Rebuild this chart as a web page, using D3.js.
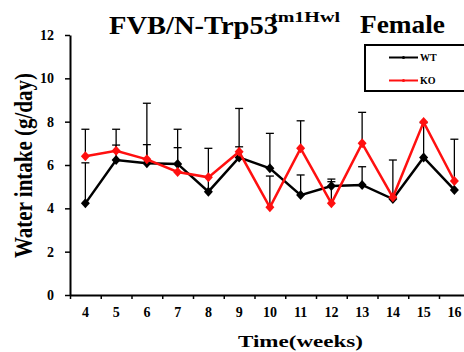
<html>
<head>
<meta charset="utf-8">
<style>
  body { margin: 0; background: #fff; }
  text { font-family: "Liberation Serif", "Times New Roman", serif; font-weight: bold; }
</style>
</head>
<body>
<script src="https://d3js.org/d3.v7.min.js"></script>
<script>

// weeks on the x axis
var weeks = [4, 5, 6, 7, 8, 9, 10, 11, 12, 13, 14, 15, 16];
// mean water intake (g/day)
var wtMean = [4.23, 6.23, 6.08, 6.05, 4.77, 6.35, 5.85, 4.61, 5.03, 5.08, 4.43, 6.35, 4.85];
var koMean = [6.40, 6.66, 6.26, 5.68, 5.43, 6.61, 4.05, 6.77, 4.23, 7.00, 4.51, 7.98, 5.26];
// upper error bars (sd)
var wtErr = [1.87, 0.69, 0.86, 1.60, 2.00, 0.49, 1.61, 0.93, 0.32, 0.84, 1.80, 1.60, 2.34];
var koErr = [1.25, 0.99, 2.59, 1.12, 0, 2.00, 1.44, 1.27, 1.00, 1.43, 0, 0, 0];
var yTicks = [0, 2, 4, 6, 8, 10, 12];

var w = 464, h = 352;
var serif = '"Liberation Serif", "Times New Roman", serif';

var svg = d3.select('body').append('svg')
    .attr('width', w)
    .attr('height', h);

// x is a category axis, ticks sit between the weeks
var x = d3.scaleBand().domain(weeks).range([70, 469.75]).padding(0);
var xEdge = d3.scaleLinear().domain([3.5, 16.5]).range([70, 469.75]);
var y = d3.scaleLinear().domain([0, 12]).range([295, 35]);

function cx(d){ return x(d) + x.bandwidth() / 2; }

// y axis
var yAxis = svg.append('g')
    .attr('transform', 'translate(70,0)')
    .call(d3.axisLeft(y).tickValues(yTicks).tickSize(5).tickSizeOuter(0).tickPadding(11));
yAxis.attr('font-family', serif);
yAxis.select('.domain').attr('stroke-width', 2);
yAxis.selectAll('.tick line').attr('stroke-width', 1.5);
yAxis.selectAll('text')
  .style('font-family', serif).style('font-weight', 'bold')
  .style('font-size', '14px').attr('fill', '#000');

// x axis: boundary ticks
var xAxisTicks = svg.append('g')
    .attr('transform', 'translate(0,295)')
    .call(d3.axisBottom(xEdge).tickValues(d3.range(3.5, 17, 1)).tickSize(4).tickSizeOuter(0).tickFormat(''));
xAxisTicks.select('.domain').attr('stroke-width', 2);
xAxisTicks.selectAll('.tick line').attr('stroke-width', 1.5);

// x axis: week labels
var xAxisLabels = svg.append('g')
    .attr('transform', 'translate(0,295)')
    .call(d3.axisBottom(x).tickSize(0).tickPadding(12));
xAxisLabels.attr('font-family', serif);
xAxisLabels.select('.domain').remove();
xAxisLabels.selectAll('text')
  .style('font-family', serif).style('font-weight', 'bold')
  .style('font-size', '14px').attr('fill', '#000');

// error bars (upper only)
function errorBars(means, errs){
  var pts = weeks.map(function(d, i){
    return {week: d, m: means[i], e: errs[i]};
  }).filter(function(d){ return d.e > 0; });

  var g = svg.append('g');
  g.selectAll('line.v').data(pts).enter().append('line')
    .attr('x1', function(d){ return cx(d.week); })
    .attr('x2', function(d){ return cx(d.week); })
    .attr('y1', function(d){ return y(d.m); })
    .attr('y2', function(d){ return y(d.m + d.e); })
    .attr('stroke', '#000')
    .attr('stroke-width', 1.3);
  g.selectAll('line.c').data(pts).enter().append('line')
    .attr('x1', function(d){ return cx(d.week) - 4; })
    .attr('x2', function(d){ return cx(d.week) + 4; })
    .attr('y1', function(d){ return y(d.m + d.e); })
    .attr('y2', function(d){ return y(d.m + d.e); })
    .attr('stroke', '#000')
    .attr('stroke-width', 1.3);
}
errorBars(wtMean, wtErr);
errorBars(koMean, koErr);

var diamond = 'M0,-5L4.5,0L0,5L-4.5,0Z';

function series(means, color){
  var line = d3.line()
    .x(function(d, i){ return cx(weeks[i]); })
    .y(function(d){ return y(d); });

  svg.append('path')
    .datum(means)
    .attr('d', line)
    .attr('fill', 'none')
    .attr('stroke', color)
    .attr('stroke-width', 2.5);

  svg.append('g').selectAll('path')
    .data(means)
    .enter()
    .append('path')
    .attr('d', diamond)
    .attr('transform', function(d, i){
      return 'translate(' + cx(weeks[i]) + ',' + y(d) + ')';
    })
    .attr('fill', color);
}
series(wtMean, '#000');
series(koMean, '#ff1010');

// title
svg.append('text').attr('x', 109).attr('y', 34)
  .attr('textLength', 169).attr('lengthAdjust', 'spacingAndGlyphs')
  .style('font-size', '26px').text('FVB/N-Trp53');
svg.append('text').attr('x', 271).attr('y', 22)
  .attr('textLength', 69).attr('lengthAdjust', 'spacingAndGlyphs')
  .style('font-size', '15px').text('tm1Hwl');
svg.append('text').attr('x', 360).attr('y', 33)
  .attr('textLength', 85).attr('lengthAdjust', 'spacingAndGlyphs')
  .style('font-size', '26px').text('Female');

// axis titles
svg.append('text')
  .attr('transform', 'translate(32,165.5) scale(1.2,1) rotate(-90)')
  .attr('text-anchor', 'middle')
  .attr('textLength', 185).attr('lengthAdjust', 'spacingAndGlyphs')
  .style('font-size', '21px')
  .text('Water intake (g/day)');

svg.append('text')
  .attr('x', 238).attr('y', 347)
  .attr('textLength', 125).attr('lengthAdjust', 'spacingAndGlyphs')
  .style('font-size', '17px')
  .text('Time(weeks)');

// legend
var legend = svg.append('g');
legend.append('rect')
  .attr('x', 365).attr('y', 45).attr('width', 110).attr('height', 46)
  .attr('fill', '#fff').attr('stroke', '#000').attr('stroke-width', 2);

var legendItems = [{name: 'WT', color: '#000', y: 57.5}, {name: 'KO', color: '#ff1010', y: 80.5}];
legendItems.forEach(function(d){
  legend.append('line')
    .attr('x1', 389).attr('x2', 418).attr('y1', d.y).attr('y2', d.y)
    .attr('stroke', d.color).attr('stroke-width', 2);
  legend.append('circle')
    .attr('cx', 403.5).attr('cy', d.y).attr('r', 1.5)
    .attr('fill', d.color);
  legend.append('text')
    .attr('x', 420).attr('y', d.y + 3.5)
    .style('font-size', '10px')
    .text(d.name);
});

</script>
</body>
</html>
